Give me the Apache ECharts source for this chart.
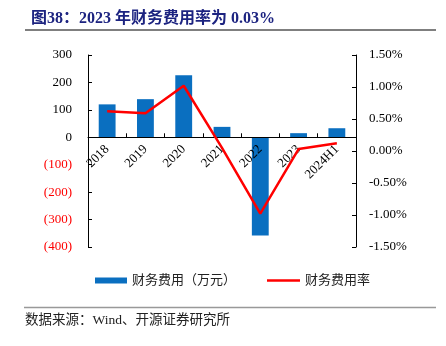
<!DOCTYPE html>
<html>
<head>
<meta charset="utf-8">
<script src="https://cdn.jsdelivr.net/npm/echarts@6/dist/echarts.min.js"></script>
<style>html,body{margin:0;padding:0;background:#fff;}#c{width:446px;height:346px;}</style>
</head>
<body>
<div id="c"></div>
<script>
var categories = ['2018', '2019', '2020', '2021', '2022', '2023', '2024H1'];
var expense = [120, 139, 226, 38, -358, 15, 33];
var rate = [0.62, 0.59, 1.02, 0.05, -0.98, 0.03, 0.12];
var titleText = '图38：2023 年财务费用率为 0.03%';
var sourceText = '数据来源：Wind、开源证券研究所';
var leftMin = -400, leftMax = 300;

var serif = '"Liberation Serif", "Times New Roman", "Noto Sans CJK SC", serif';
var cjk = '"Liberation Serif", "Noto Sans CJK SC", sans-serif';
var gridTop = 55, gridBottom = 99, chartH = 346;
var plotH = chartH - gridTop - gridBottom;
var zeroOffset = -plotH * (0 - leftMin) / (leftMax - leftMin);

var chart = echarts.init(document.getElementById('c'));
chart.setOption({
  backgroundColor: '#fff',
  animation: false,
  title: {
    text: titleText, left: 26, top: 6,
    textStyle: { fontSize: 16, fontWeight: 'bold', color: '#1c2380', fontFamily: cjk }
  },
  graphic: [
    { type: 'line', shape: { x1: 25, y1: 30, x2: 436, y2: 30 }, style: { stroke: '#555', lineWidth: 1.5 } },
    { type: 'line', shape: { x1: 24, y1: 307.5, x2: 436, y2: 307.5 }, style: { stroke: '#999', lineWidth: 1.5 } },
    { type: 'text', left: 25, top: 314, style: { text: sourceText, fontSize: 13.5, fill: '#222', fontFamily: cjk } }
  ],
  legend: [
    {
      left: 90, top: 269, itemWidth: 32, itemHeight: 6, icon: 'rect',
      textStyle: { fontSize: 13, color: '#222', fontFamily: cjk },
      data: ['财务费用（万元）']
    },
    {
      left: 262, top: 269, itemWidth: 33, itemHeight: 2.5, icon: 'rect',
      textStyle: { fontSize: 13, color: '#222', fontFamily: cjk },
      data: ['财务费用率']
    }
  ],
  grid: { left: 88, right: 90, top: gridTop, bottom: gridBottom },
  xAxis: {
    type: 'category', data: categories,
    offset: zeroOffset, z: 3,
    axisLine: { onZero: false, lineStyle: { color: '#000', width: 1 } },
    axisTick: { show: true, length: 4, inside: true, lineStyle: { color: '#000' } },
    axisLabel: { rotate: 45, margin: 10, fontSize: 13, color: '#000', fontFamily: serif, interval: 0 }
  },
  yAxis: [
    {
      type: 'value', min: leftMin, max: leftMax, interval: 100,
      splitLine: { show: false },
      axisLine: { show: true, lineStyle: { color: '#000' } },
      axisTick: { show: true, inside: true, length: 4, lineStyle: { color: '#000' } },
      axisLabel: {
        margin: 16, fontSize: 13, fontFamily: serif,
        formatter: function (v) { return v < 0 ? '(' + Math.abs(v) + ')' : String(v); },
        color: function (v) { return Number(v) < 0 ? '#ff0000' : '#000'; }
      }
    },
    {
      type: 'value', min: -1.5, max: 1.5, interval: 0.5, position: 'right',
      splitLine: { show: false },
      axisLine: { show: true, lineStyle: { color: '#000' } },
      axisTick: { show: true, inside: true, length: 4, lineStyle: { color: '#000' } },
      axisLabel: {
        margin: 13, fontSize: 13, fontFamily: serif, color: '#000',
        formatter: function (v) { return v.toFixed(2) + '%'; }
      }
    }
  ],
  series: [
    {
      name: '财务费用（万元）', type: 'bar', yAxisIndex: 0, data: expense,
      barWidth: '44%', itemStyle: { color: '#0a6fc0' }, z: 2
    },
    {
      name: '财务费用率', type: 'line', yAxisIndex: 1, data: rate, z: 5,
      symbol: 'none', lineStyle: { color: '#ff0000', width: 2.5 }, itemStyle: { color: '#ff0000' }
    }
  ]
});
</script>
</body>
</html>
